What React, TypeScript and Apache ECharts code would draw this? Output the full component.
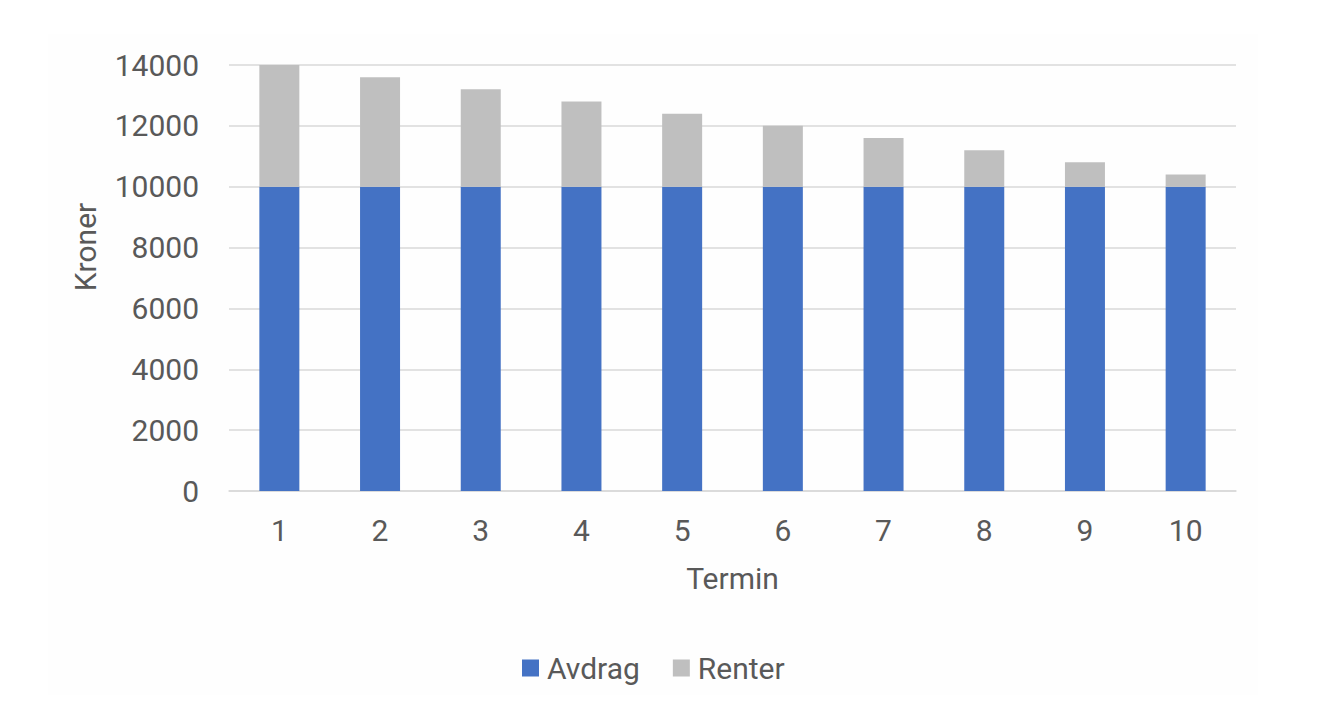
import React, { useEffect, useRef } from "react";
import * as echarts from "echarts";

const terms = ["1", "2", "3", "4", "5", "6", "7", "8", "9", "10"];
const avdrag = [10000, 10000, 10000, 10000, 10000, 10000, 10000, 10000, 10000, 10000];
const renter = [4000, 3600, 3200, 2800, 2400, 2000, 1600, 1200, 800, 400];

const textColor = "#595959";
const font = "Roboto";

const App: React.FC = () => {
  const chartRef = useRef<HTMLDivElement>(null);

  useEffect(() => {
    const chart = echarts.init(chartRef.current!, null, { renderer: "svg" });
    chart.setOption({
      animation: false,
      backgroundColor: "#ffffff",
      textStyle: { fontFamily: font },
      graphic: [
        {
          type: "rect",
          z: -10,
          shape: { x: 48, y: 34, width: 1210, height: 661 },
          style: { fill: "#fefefe" },
        },
      ],
      grid: { left: 229, right: 81, top: 65, bottom: 233 },
      legend: {
        left: 522,
        top: 653,
        padding: 0,
        itemWidth: 17,
        itemHeight: 17,
        itemGap: 33,
        icon: "rect",
        textStyle: { color: textColor, fontSize: 30, fontFamily: font, padding: [0, 0, 0, 3] },
        data: ["Avdrag", "Renter"],
      },
      xAxis: {
        type: "category",
        data: terms,
        name: "Termin",
        nameLocation: "middle",
        nameGap: 72,
        nameTextStyle: { color: textColor, fontSize: 30, fontFamily: font },
        axisLine: { lineStyle: { color: "#d9d9d9", width: 1.5 } },
        axisTick: { show: false },
        axisLabel: { color: textColor, fontSize: 30, fontFamily: font, margin: 24 },
      },
      yAxis: {
        type: "value",
        min: 0,
        max: 14000,
        interval: 2000,
        name: "Kroner",
        nameLocation: "middle",
        nameGap: 129,
        nameTextStyle: { color: textColor, fontSize: 30, fontFamily: font, padding: [0, 0, 0, 62] },
        axisLine: { show: false },
        axisTick: { show: false },
        axisLabel: {
          color: textColor,
          fontSize: 30,
          fontFamily: font,
          margin: 30,
          formatter: (v: number) => String(v),
        },
        splitLine: { lineStyle: { color: "#d9d9d9", width: 1.5 } },
      },
      series: [
        {
          name: "Avdrag",
          type: "bar",
          stack: "total",
          barWidth: 40,
          itemStyle: { color: "#4472c4" },
          data: avdrag,
        },
        {
          name: "Renter",
          type: "bar",
          stack: "total",
          barWidth: 40,
          itemStyle: { color: "#bfbfbf" },
          data: renter,
        },
      ],
    });
    return () => {
      chart.dispose();
    };
  }, []);

  return (
    <div
      ref={chartRef}
      style={{ position: "fixed", left: 0, top: 0, width: "1317px", height: "724px" }}
    />
  );
};

export default App;
